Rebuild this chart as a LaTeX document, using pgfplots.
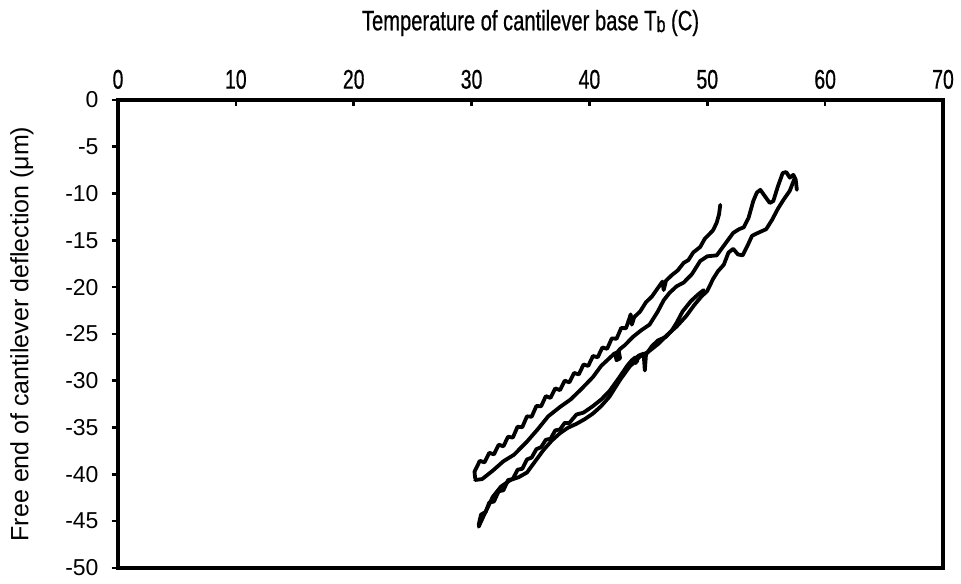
\documentclass[border=0pt]{standalone}
\usepackage{pgfplots}
\pgfplotsset{compat=1.18}
\usepackage{fontspec}
\setmainfont{Liberation Sans}
\newfontfamily\narrowfont[FakeStretch=0.72,FakeBold=0.6]{Liberation Sans}
\pgfplotsset{crv/.style={black, line width=1.9pt, line join=round, line cap=round, mark=none}}
\begin{document}
\begin{tikzpicture}
\begin{axis}[
  scale only axis,
  width=412.5pt, height=234pt,
  xmin=0, xmax=70, ymin=-50, ymax=0,
  xtick={0,10,...,70}, ytick={-50,-45,...,0},
  xtick pos=upper, xticklabel pos=upper,
  ytick pos=lower,
  xtick align=inside, ytick align=outside,
  major tick length=3.2pt,
  axis line style={line width=1.6pt},
  tick style={line width=1.3pt, black},
  /pgf/number format/assume math mode=true,
  xticklabel style={font=\narrowfont\fontsize{13.5}{15}\selectfont, yshift=2pt},
  yticklabel style={font=\fontsize{11.5}{13}\selectfont, xshift=-3pt},
  xlabel={\narrowfont\fontsize{14}{16}\selectfont Temperature of cantilever base T\raisebox{-0.12ex}{\fontsize{11}{12}\selectfont b} (C)},
  xlabel style={yshift=10pt},
  ylabel={Free end of cantilever deflection (μm)},
  ylabel style={font=\fontsize{12.5}{14}\selectfont, yshift=9pt},
]
% upper noisy curve
\addplot[crv] coordinates {
(30.3,-40.4)(30.25,-39.7)(30.7,-38.55)(31.1,-38.72)(31.5,-37.69)(31.9,-37.86)
(32.3,-36.83)(32.7,-37.0)(33.1,-35.97)(33.5,-36.07)(33.9,-34.91)(34.3,-34.96)
(34.7,-33.8)(35.1,-33.84)(35.5,-32.69)(35.9,-32.73)(36.3,-31.64)(36.7,-31.83)
(37.1,-30.81)(37.5,-31.0)(37.9,-29.99)(38.3,-30.17)(38.7,-29.16)(39.1,-29.32)
(39.5,-28.26)(39.9,-28.41)(40.3,-27.35)(40.7,-27.49)(41.1,-26.44)(41.5,-26.58)
(41.9,-25.47)(42.3,-25.51)(42.7,-24.35)(43.1,-24.39)(43.4,-23.3)(43.5,-22.9)
(43.6,-24.0)(43.8,-23.2)(44.3,-22.6)(44.8,-21.6)(45.3,-21.0)(45.8,-20.1)
(46.2,-19.4)(46.3,-20.3)(46.5,-19.3)(47.0,-18.7)(47.5,-18.2)(48.0,-17.4)
(48.4,-17.1)(48.8,-16.3)(49.4,-15.7)(49.8,-14.8)(50.2,-14.3)(50.5,-13.9)
(50.8,-13.1)(51.0,-12.2)(51.1,-11.2)
};
% middle curve
\addplot[crv] coordinates {
(30.3,-40.6)(30.9,-40.5)(31.8,-39.6)(32.7,-38.6)(33.6,-37.9)(34.7,-36.5)
(35.6,-35.2)(36.5,-33.8)(37.5,-32.8)(38.4,-32.0)(39.3,-30.9)(40.3,-29.6)
(41.0,-28.4)(41.6,-27.7)(42.1,-27.1)(42.5,-26.9)(42.6,-27.6)(42.3,-27.8)
(42.2,-27.2)(42.6,-26.6)(43.0,-26.2)(43.7,-25.3)(44.4,-24.6)(45.1,-24.0)
(45.8,-22.6)(46.3,-21.4)(46.8,-20.6)(47.4,-19.9)(48.0,-19.5)(48.7,-18.6)
(49.4,-17.2)(50.0,-16.7)(50.8,-16.6)(51.5,-15.4)(52.2,-14.2)(52.7,-13.8)
(53.1,-13.6)(53.5,-12.6)(53.9,-10.8)(54.2,-9.9)(54.5,-9.6)(54.9,-10.3)
(55.3,-11.0)(55.6,-10.8)(56.0,-9.2)(56.4,-7.8)(56.7,-7.7)(57.0,-8.3)
(57.3,-8.0)(57.5,-8.5)(57.6,-9.6)
};
% lower long curve
\addplot[crv] coordinates {
(30.6,-45.6)(31.0,-44.5)(31.8,-42.4)(32.5,-41.3)(33.3,-40.6)(34.0,-40.3)
(34.7,-39.8)(35.4,-38.6)(36.1,-37.4)(36.8,-36.4)(37.5,-35.6)(38.2,-35.0)
(38.9,-34.6)(39.6,-34.1)(40.3,-33.5)(41.0,-32.7)(41.7,-31.7)(42.6,-29.9)
(43.4,-28.5)(44.3,-27.4)(45.0,-26.9)(45.8,-26.1)(46.6,-25.1)(47.4,-24.2)
(48.2,-23.1)(48.9,-21.9)(49.5,-21.0)(50.0,-20.4)(50.5,-19.1)(50.9,-18.3)
(51.4,-17.6)(51.8,-16.3)(52.2,-15.9)(52.6,-16.5)(53.0,-16.6)(53.4,-15.6)
(53.8,-14.5)(54.3,-14.2)(55.0,-13.8)(55.5,-12.8)(56.0,-11.6)(56.5,-10.6)
(57.0,-9.7)(57.4,-8.4)
};
% lower noisy short curve
\addplot[crv] coordinates {
(30.6,-45.4)(30.8,-44.3)(31.2,-44.0)(31.5,-43.0)(31.9,-42.9)(32.3,-41.8)
(32.7,-41.7)(33.1,-40.6)(33.5,-40.5)(33.9,-39.5)(34.3,-39.4)(34.7,-38.4)
(35.1,-38.2)(35.5,-37.3)(35.9,-37.1)(36.3,-36.3)(36.7,-36.2)(37.1,-35.3)
(37.5,-35.2)(37.9,-34.5)(38.3,-34.5)(38.9,-33.6)(39.5,-33.4)(40.3,-32.7)
(41.0,-32.0)(41.7,-31.1)(42.5,-29.7)(43.2,-28.4)(43.6,-27.8)(43.9,-27.5)
(44.1,-27.8)(43.9,-28.1)(43.7,-27.8)(44.2,-27.3)(44.6,-27.1)(44.7,-28.9)
(44.8,-27.2)(45.3,-26.3)(45.8,-25.7)(46.5,-25.3)(47.0,-24.6)(47.4,-23.8)
(47.9,-22.6)(48.6,-21.5)(49.2,-20.8)(49.7,-20.3)
};
\end{axis}
\path ([xshift=-59pt,yshift=-8pt]current axis.south west) rectangle ([xshift=9pt,yshift=50pt]current axis.north east);
\end{tikzpicture}
\end{document}
